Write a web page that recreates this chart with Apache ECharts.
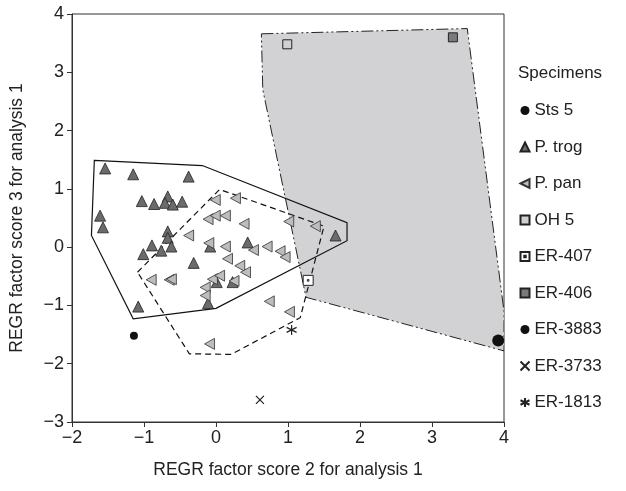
<!DOCTYPE html>
<html><head><meta charset="utf-8">
<script src="https://cdn.jsdelivr.net/npm/echarts@6/dist/echarts.min.js"></script>
<style>html,body{margin:0;padding:0;background:#fff}#c{width:626px;height:491px}</style>
</head><body><div id="c"></div>
<script>
// ---- data ----
const xTicks = [-2, -1, 0, 1, 2, 3, 4];
const yTicks = [-3, -2, -1, 0, 1, 2, 3, 4];
const pTrog = [[-1.54,1.35],[-1.15,1.25],[-0.38,1.21],[-1.03,0.79],[-0.86,0.74],[-0.67,0.87],[-0.71,0.76],[-0.60,0.73],[-0.47,0.78],[-1.61,0.54],[-1.57,0.34],[-0.67,0.27],[-0.67,0.16],[-0.89,0.03],[-0.62,0.01],[-1.01,-0.12],[-0.76,-0.06],[-0.31,-0.27],[-1.08,-1.02],[-0.11,-0.96],[0.01,-0.60],[0.23,-0.60],[-0.08,0.01],[0.44,0.08],[1.66,0.20]];
const pPan = [[-0.01,0.81],[0.27,0.84],[-0.11,0.48],[-0.01,0.54],[0.13,0.54],[0.39,0.40],[-0.38,0.20],[-0.10,0.07],[0.13,0.01],[0.16,-0.20],[0.52,-0.05],[0.71,0.01],[0.89,-0.07],[0.96,-0.17],[0.33,-0.32],[0.41,-0.43],[-0.90,-0.56],[-0.65,-0.56],[-0.62,-0.55],[-0.15,-0.69],[-0.15,-0.83],[-0.05,-0.55],[0.05,-0.49],[0.25,-0.58],[1.01,0.44],[1.38,0.36],[0.74,-0.93],[1.02,-1.11],[-0.09,-1.66]];
const sts5 = [[3.92,-1.60]];
const oh5 = [[0.99,3.48]];
const er407 = [[1.28,-0.57]];
const er406 = [[3.29,3.60]];
const er3883 = [[-1.14,-1.52]];
const er3733 = [[0.61,-2.62]];
const er1813 = [[1.05,-1.42]];
const hullTrog = [[-1.69,1.49],[-0.19,1.40],[1.82,0.42],[1.82,0.11],[0.0,-1.05],[-1.15,-1.23],[-1.73,0.20]];
const hullPan = [[-1.09,-0.43],[0.05,0.99],[1.50,0.36],[1.17,-1.21],[0.21,-1.84],[-0.37,-1.83]];
const hullGrey = [[0.63,3.66],[3.49,3.75],[4.0,-1.10],[4.0,-1.78],[1.25,-0.86],[0.65,2.70]];
const legendNames = ['Sts 5','P. trog','P. pan','OH 5','ER-407','ER-406','ER-3883','ER-3733','ER-1813'];

const FONT = '"Liberation Sans", Arial, sans-serif';
const TXT = '#222';
const minus = v => String(v).replace('-', '\u2212');

function polySeries(pts, style, z) {
  return {
    type: 'custom', silent: true, z: z, clip: true, data: [0],
    renderItem: (params, api) => ({
      type: 'polygon',
      shape: { points: pts.map(p => api.coord(p)) },
      style: style
    })
  };
}

const chart = echarts.init(document.getElementById('c'), null, {renderer: 'canvas'});
chart.setOption({
  animation: false,
  textStyle: { fontFamily: FONT, color: TXT },
  title: { text: 'Specimens', left: 513, top: 60, textStyle: { fontFamily: FONT, fontSize: 17, fontWeight: 'normal', color: TXT } },
  legend: {
    data: legendNames, orient: 'vertical', left: 513, top: 97,
    itemWidth: 9, itemHeight: 9, itemGap: 19.5,
    textStyle: { fontFamily: FONT, fontSize: 17, color: TXT, padding: [0,0,0,0] }
  },
  grid: { left: 70, right: 122, top: 14, bottom: 69, show: true, borderColor: '#333', borderWidth: 1, backgroundColor: 'transparent' },
  xAxis: {
    type: 'value', min: xTicks[0], max: xTicks[xTicks.length-1], interval: 1,
    name: 'REGR factor score 2 for analysis 1', nameLocation: 'middle', nameGap: 39,
    nameTextStyle: { fontFamily: FONT, fontSize: 17.5, color: TXT },
    axisLine: { show: true, onZero: false, lineStyle: { color: '#333' } },
    axisTick: { show: true, inside: false, length: 5, lineStyle: { color: '#333' } },
    axisLabel: { fontFamily: FONT, fontSize: 18, color: TXT, margin: 7, formatter: minus },
    splitLine: { show: false }
  },
  yAxis: {
    type: 'value', min: yTicks[0], max: yTicks[yTicks.length-1], interval: 1,
    name: 'REGR factor score 3 for analysis 1', nameLocation: 'middle', nameGap: 46, nameRotate: 90,
    nameTextStyle: { fontFamily: FONT, fontSize: 17.5, color: TXT },
    axisLine: { show: true, onZero: false, lineStyle: { color: '#333' } },
    axisTick: { show: true, inside: false, length: 5, lineStyle: { color: '#333' } },
    axisLabel: { fontFamily: FONT, fontSize: 18, color: TXT, margin: 8, formatter: minus },
    splitLine: { show: false }
  },
  series: [
    polySeries(hullGrey, { fill: '#d2d2d4', stroke: '#222', lineWidth: 1, lineDash: [12,3,2,3,2,3] }, 1),
    polySeries(hullTrog, { fill: 'none', stroke: '#111', lineWidth: 1.2 }, 2),
    polySeries(hullPan, { fill: 'none', stroke: '#111', lineWidth: 1.2, lineDash: [6,4] }, 2),
    { name: 'Sts 5', type: 'scatter', data: sts5, symbol: 'circle', symbolSize: 12, z: 5,
      itemStyle: { color: '#111', opacity: 1 } },
    { name: 'P. trog', type: 'scatter', data: pTrog, symbol: 'triangle', symbolSize: 11, z: 3,
      itemStyle: { color: '#6b6b6b', borderColor: '#222', borderWidth: 0.8, opacity: 1 } },
    { name: 'P. pan', type: 'scatter', data: pPan, symbol: 'path://M0,5L10,0L10,10Z', symbolSize: [10, 11], z: 4,
      itemStyle: { color: '#bdbdbd', borderColor: '#333', borderWidth: 0.8, opacity: 1 } },
    { name: 'OH 5', type: 'scatter', data: oh5, symbol: 'rect', symbolSize: 9, z: 5,
      itemStyle: { color: '#d0d0d0', borderColor: '#222', borderWidth: 1, opacity: 1 } },
    { name: 'ER-407', type: 'scatter', data: er407, symbol: 'path://M0,0H10V10H0ZM4.2,4.2H5.8V5.8H4.2Z', symbolSize: 10, z: 5,
      itemStyle: { color: '#fff', borderColor: '#222', borderWidth: 1, opacity: 1 } },
    { name: 'ER-406', type: 'scatter', data: er406, symbol: 'rect', symbolSize: 9, z: 5,
      itemStyle: { color: '#7a7a7a', borderColor: '#222', borderWidth: 1, opacity: 1 } },
    { name: 'ER-3883', type: 'scatter', data: er3883, symbol: 'circle', symbolSize: 8, z: 5,
      itemStyle: { color: '#111', opacity: 1 } },
    { name: 'ER-3733', type: 'scatter', data: er3733, symbol: 'path://M0,0L10,10M10,0L0,10', symbolSize: 8, z: 5,
      itemStyle: { color: 'none', borderColor: '#222', borderWidth: 1.2, opacity: 1 } },
    { name: 'ER-1813', type: 'scatter', data: er1813, symbol: 'path://M5,0L5,10M0,2.5L10,7.5M0,7.5L10,2.5', symbolSize: 10, z: 5,
      itemStyle: { color: 'none', borderColor: '#222', borderWidth: 1.2, opacity: 1 } }
  ]
});
</script>
</body></html>
